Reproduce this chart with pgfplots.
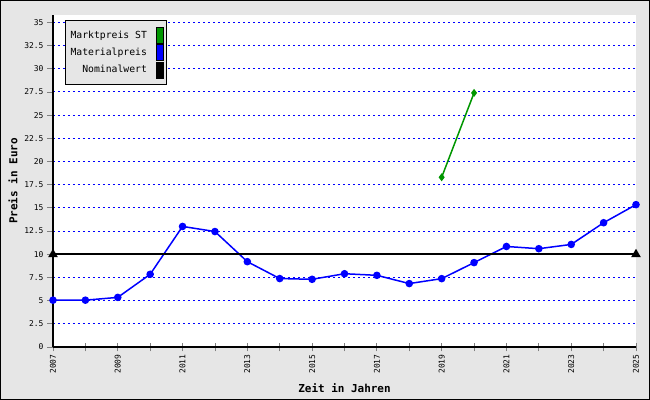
\documentclass[border=0pt]{standalone}
\usepackage{fontspec}
\setmainfont{DejaVu Sans Mono}
\usepackage{pgfplots}
\pgfplotsset{compat=1.18}
\definecolor{bg}{RGB}{230,230,230}
\definecolor{mgreen}{RGB}{0,150,0}
\begin{document}
\begin{tikzpicture}
\filldraw[fill=bg, draw=black, line width=1bp] (-52.5bp,-52.5bp) rectangle (596.5bp,346.5bp);
\begin{axis}[
  at={(0bp,0bp)}, anchor=south west,
  scale only axis, width=583bp, height=332bp,
  xmin=2007, xmax=2025, ymin=0, ymax=35.8,
  clip=false,
  axis x line=bottom, axis y line=left,
  axis line style={-, line width=1.2bp},
  axis background/.style={fill=white},
  xtick={2007,2009,...,2025},
  minor xtick={2008,2010,...,2024},
  ytick={0,2.5,...,35},
  xtick align=center, ytick align=outside,
  major tick length=6bp, minor tick length=9bp,
  xtick style={/pgfplots/major tick length=9bp},
  tick style={line width=0.8bp},
  tick label style={font=\fontsize{8}{9}\selectfont},
  /pgf/number format/assume math mode=true,
  xticklabel style={rotate=90, anchor=east, /pgf/number format/1000 sep={}, xshift=-1bp},
  yticklabel style={/pgf/number format/fixed},
  ymajorgrids,
  major grid style={draw=blue, line width=1bp, dash pattern=on 2bp off 3bp},
  xlabel={Zeit in Jahren},
  ylabel={Preis in Euro},
  label style={font=\fontsize{11}{13}\selectfont\bfseries},
  xlabel style={at={(axis description cs:0.5,-0.1235)}, anchor=center},
  ylabel style={at={(axis description cs:-0.0686,0.5)}, anchor=center},
  legend style={at={(axis description cs:0.0206,0.985)}, anchor=north west,
    fill=bg, draw=black, line width=1bp, font=\fontsize{9.8}{12}\selectfont,
    row sep=0.5bp, inner xsep=3bp, inner ysep=6.5bp},
  legend cell align=right,
  legend plot pos=right,
]
\addplot[mgreen, line width=1.5bp, mark=diamond*, mark size=2.8bp,
  legend image code/.code={\path[draw=none] (0bp,0bp) -- (15bp,0bp);\filldraw[fill=mgreen, draw=black, line width=0.8bp] (7bp,-8bp) rectangle (14bp,8bp);}]
  coordinates {(2019,18.3) (2020,27.4)};
\addlegendentry{Marktpreis ST}
\addplot[blue, line width=1.5bp, mark=*, mark size=3bp,
  legend image code/.code={\path[draw=none] (0bp,0bp) -- (15bp,0bp);\filldraw[fill=blue, draw=black, line width=0.8bp] (7bp,-8bp) rectangle (14bp,8bp);}]
  coordinates {(2007,5.05) (2008,5.05) (2009,5.35) (2010,7.84) (2011,13.0) (2012,12.45) (2013,9.2) (2014,7.38) (2015,7.3) (2016,7.9) (2017,7.73) (2018,6.84) (2019,7.37) (2020,9.1) (2021,10.84) (2022,10.6) (2023,11.06) (2024,13.4) (2025,15.35)};
\addlegendentry{Materialpreis}
\addplot[black, line width=2bp, mark=triangle*, mark size=3.5bp,
  legend image code/.code={\path[draw=none] (0bp,0bp) -- (15bp,0bp);\filldraw[fill=black, draw=black, line width=0.8bp] (7bp,-8bp) rectangle (14bp,8bp);}]
  coordinates {(2007,10) (2025,10)};
\addlegendentry{Nominalwert}
\end{axis}
\end{tikzpicture}
\end{document}
